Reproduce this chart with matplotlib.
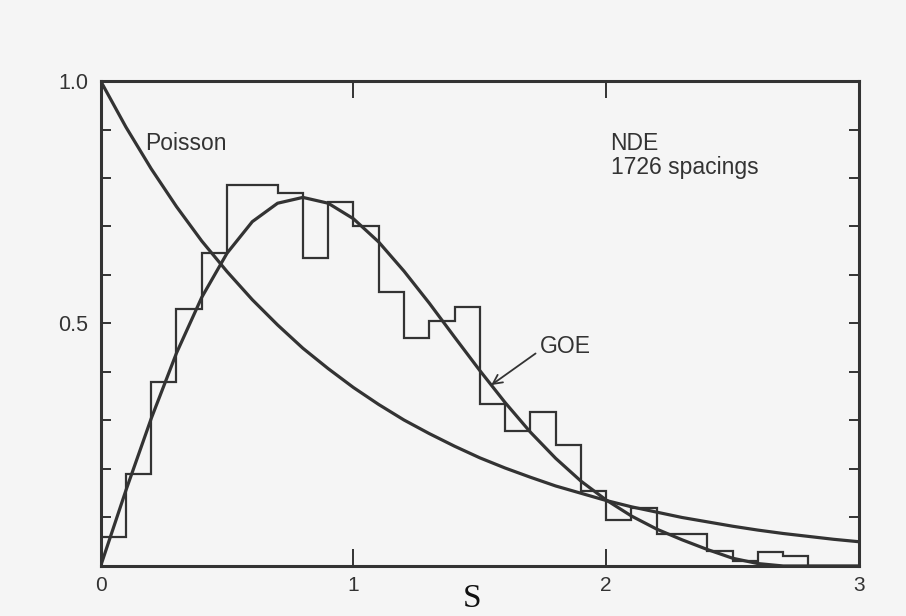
import numpy as np
import matplotlib
matplotlib.use("Agg")
from matplotlib import pyplot as plt

# histogram of nearest neighbour spacings (NDE, 1726 spacings), bin width 0.1
bin_edges = [0.0, 0.1, 0.2, 0.3, 0.4, 0.5, 0.6, 0.7, 0.8, 0.9, 1.0,
             1.1, 1.2, 1.3, 1.4, 1.5, 1.6, 1.7, 1.8, 1.9, 2.0,
             2.1, 2.2, 2.3, 2.4, 2.5, 2.6, 2.7, 2.8, 2.9, 3.0]
hist_values = [0.06, 0.19, 0.38, 0.53, 0.645, 0.785, 0.785, 0.77, 0.635, 0.75,
               0.70, 0.565, 0.47, 0.505, 0.535, 0.335, 0.278, 0.317, 0.25, 0.155,
               0.095, 0.12, 0.065, 0.065, 0.03, 0.01, 0.028, 0.02, 0.0, 0.0]

# curves at s = 0, 0.1, ..., 3.0
curve_s = [0.0, 0.1, 0.2, 0.3, 0.4, 0.5, 0.6, 0.7, 0.8, 0.9, 1.0,
           1.1, 1.2, 1.3, 1.4, 1.5, 1.6, 1.7, 1.8, 1.9, 2.0,
           2.1, 2.2, 2.3, 2.4, 2.5, 2.6, 2.7, 2.8, 2.9, 3.0]
poisson = [1.000, 0.905, 0.819, 0.741, 0.670, 0.607, 0.549, 0.497, 0.449, 0.407, 0.368,
           0.333, 0.301, 0.273, 0.247, 0.223, 0.202, 0.183, 0.165, 0.150, 0.135,
           0.122, 0.111, 0.100, 0.091, 0.082, 0.074, 0.067, 0.061, 0.055, 0.050]
goe = [0.000, 0.156, 0.304, 0.439, 0.554, 0.645, 0.710, 0.748, 0.760, 0.748, 0.716,
       0.668, 0.608, 0.542, 0.472, 0.403, 0.337, 0.276, 0.222, 0.175, 0.136,
       0.103, 0.076, 0.054, 0.034, 0.016, 0.005, 0.0, 0.0, 0.0, 0.0]

x_ticks = [0, 1, 2, 3]
x_tick_labels = ["0", "1", "2", "3"]
y_ticks = [0.0, 0.1, 0.2, 0.3, 0.4, 0.5, 0.6, 0.7, 0.8, 0.9, 1.0]
y_tick_labels = ["", "", "", "", "", "0.5", "", "", "", "", "1.0"]

ink = "#333333"
paper = "#f5f5f5"

plt.rcParams['font.family'] = ['Liberation Sans', 'DejaVu Sans']

fig = plt.figure(figsize=(9.06, 6.16), dpi=100, facecolor=paper)
ax = fig.add_axes([0.1111, 0.0812, 0.837, 0.7873])
ax.set_facecolor(paper)

ax.stairs(hist_values, bin_edges, color=ink, lw=1.6)
ax.plot(curve_s, poisson, color=ink, lw=2.3, solid_capstyle='round')
ax.plot(curve_s, goe, color=ink, lw=2.3, solid_capstyle='round')

ax.set_xlim(0, 3)
ax.set_ylim(0, 1)

for sp in ax.spines.values():
    sp.set_linewidth(2.2)
    sp.set_color(ink)

ax.set_xticks(x_ticks)
ax.set_xticklabels(x_tick_labels)
ax.set_yticks(y_ticks)
ax.set_yticklabels(y_tick_labels)
ax.tick_params(axis='x', direction='in', length=12, width=1.4, colors=ink,
               top=True, labelsize=15, pad=7)
ax.tick_params(axis='y', direction='in', length=7, width=1.4, colors=ink,
               right=True, labelsize=15.5, pad=9)

ax.text(0.175, 0.858, "Poisson", fontsize=16.5, color=ink, va='baseline')
ax.text(2.017, 0.858, "NDE", fontsize=16.5, color=ink, va='baseline')
ax.text(2.017, 0.808, "1726 spacings", fontsize=16.5, color=ink, va='baseline')
ax.annotate("GOE", xy=(1.545, 0.373), xytext=(1.736, 0.44),
            fontsize=16.5, color=ink, va='baseline', ha='left',
            arrowprops=dict(arrowstyle='->', color=ink, lw=1.3,
                            relpos=(0.0, 0.3), shrinkA=1, shrinkB=0))

fig.text(0.521, 0.028, "S", fontsize=24, family='Liberation Serif',
         color='#111111', ha='center', va='center')

fig.savefig("out.png", dpi=100, facecolor=paper)
